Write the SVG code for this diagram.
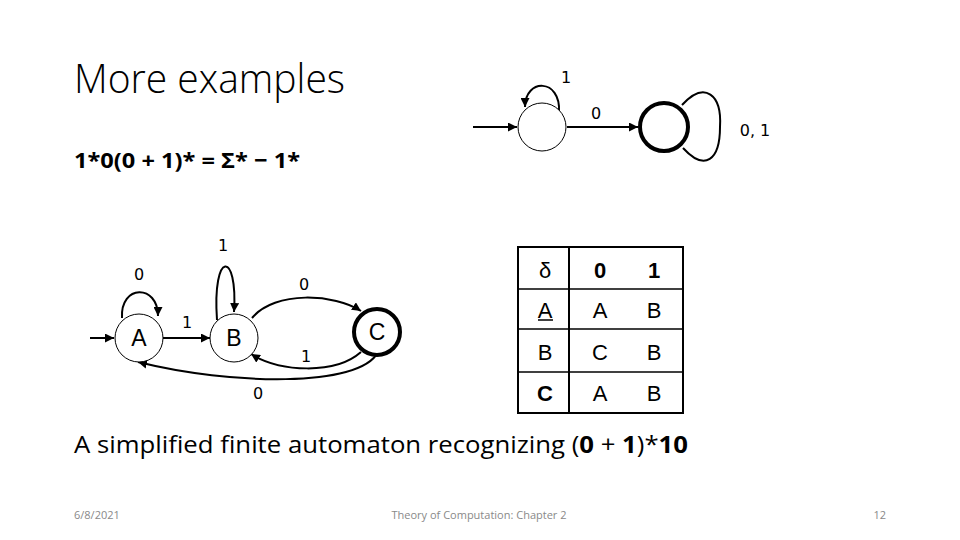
<svg xmlns="http://www.w3.org/2000/svg" width="960" height="540" viewBox="0 0 960 540">
<style>
.st{fill:#fff;stroke:#000;stroke-width:1}
.fin{fill:#fff;stroke:#000;stroke-width:4}
.e{fill:none;stroke:#000;stroke-width:2}
.lb{font-family:"DejaVu Sans",sans-serif;font-size:16px;fill:#000;text-anchor:middle}
.sn{font-family:"Liberation Sans",Arial,sans-serif;font-size:23px;fill:#000;text-anchor:middle}
.tb{font-family:"Liberation Sans",Arial,sans-serif;font-size:22px;fill:#000;text-anchor:middle}
.ft{font-family:"Open Sans","Liberation Sans",sans-serif;font-size:11px;fill:#898989}
</style>
<defs>
<marker id="ah" viewBox="0 0 10 10" refX="10" refY="5" markerWidth="4.5" markerHeight="4.5" orient="auto" markerUnits="strokeWidth">
<path d="M0,0 L10,5 L0,10 z" fill="#000"/>
</marker>
</defs>
<rect width="960" height="540" fill="#fff"/>
<text x="74" y="93" font-family="Open Sans, Liberation Sans, sans-serif" font-weight="300" font-size="40" textLength="271" lengthAdjust="spacingAndGlyphs">More examples</text>
<text x="74" y="168" font-family="Open Sans, Liberation Sans, sans-serif" font-weight="700" font-size="22" textLength="226" lengthAdjust="spacingAndGlyphs">1*0(0 + 1)* = Σ* − 1*</text>
<text x="74" y="453" font-family="Open Sans, Liberation Sans, sans-serif" font-size="23" textLength="614" lengthAdjust="spacingAndGlyphs">A simplified finite automaton recognizing (<tspan font-weight="700">0</tspan> + <tspan font-weight="700">1</tspan>)*<tspan font-weight="700">10</tspan></text>

<g id="connectors">
<line class="e" x1="473" y1="127" x2="517" y2="127" marker-end="url(#ah)"/>
<path class="e" d="M559,112 C561,78 525,78 525,107" marker-end="url(#ah)"/>
<line class="e" x1="567" y1="127" x2="638" y2="127" marker-end="url(#ah)"/>
<path class="e" d="M682,105 C705,80 722,95 720,127 C720,160 705,172 683,148"/>
<line class="e" x1="90" y1="338" x2="114" y2="338" marker-end="url(#ah)"/>
<path class="e" d="M122,318 C120,284 158,284 158,316" marker-end="url(#ah)"/>
<line class="e" x1="163" y1="338" x2="210" y2="338" marker-end="url(#ah)"/>
<path class="e" d="M217,320 C212,250 238,250 234,312" marker-end="url(#ah)"/>
<path class="e" d="M252,318 C275,290 335,294 361,311" marker-end="url(#ah)"/>
<path class="e" d="M361,352 C335,375 280,372 251,354" marker-end="url(#ah)"/>
<path class="e" d="M378,352 C360,388 230,385 138,362" marker-end="url(#ah)"/>
</g>
<g id="labels">
<text class="lb" x="566" y="83">1</text>
<text class="lb" x="596" y="119">0</text>
<text class="lb" x="755" y="136">0, 1</text>
<text class="lb" x="139" y="280">0</text>
<text class="lb" x="187" y="328">1</text>
<text class="lb" x="223" y="251">1</text>
<text class="lb" x="304" y="290">0</text>
<text class="lb" x="306" y="362">1</text>
<text class="lb" x="258" y="399">0</text>
</g>
<g id="q0"><circle class="st" cx="542" cy="127" r="24"/></g>
<g id="q1"><circle class="fin" cx="664" cy="127" r="24"/></g>
<g id="A"><circle class="st" cx="139" cy="338" r="24"/><text class="sn" x="139" y="346">A</text></g>
<g id="B"><circle class="st" cx="234" cy="338" r="24"/><text class="sn" x="234" y="346">B</text></g>
<g id="C"><circle class="fin" cx="377" cy="332" r="23"/><text class="sn" x="377" y="340">C</text></g>

<g id="table">
<rect x="518" y="247" width="165" height="166" fill="none" stroke="#000" stroke-width="2"/>
<line x1="569" y1="247" x2="569" y2="413" stroke="#000" stroke-width="2"/>
<line x1="518" y1="289" x2="683" y2="289" stroke="#000" stroke-width="1.5"/>
<line x1="518" y1="329" x2="683" y2="329" stroke="#000" stroke-width="1.5"/>
<line x1="518" y1="372" x2="683" y2="372" stroke="#000" stroke-width="1.5"/>
<text class="tb" x="545" y="278">δ</text>
<text class="tb" x="600" y="278" font-weight="700">0</text>
<text class="tb" x="654" y="278" font-weight="700">1</text>
<text class="tb" x="545" y="318">A</text>
<line x1="538" y1="320" x2="553" y2="320" stroke="#000" stroke-width="1.5"/>
<text class="tb" x="600" y="318">A</text>
<text class="tb" x="654" y="318">B</text>
<text class="tb" x="545" y="360">B</text>
<text class="tb" x="600" y="360">C</text>
<text class="tb" x="654" y="360">B</text>
<text class="tb" x="545" y="401" font-weight="700">C</text>
<text class="tb" x="600" y="401">A</text>
<text class="tb" x="654" y="401">B</text>
</g>

<text class="ft" x="74" y="519">6/8/2021</text>
<text class="ft" x="479" y="519" text-anchor="middle">Theory of Computation: Chapter 2</text>
<text class="ft" x="886" y="519" text-anchor="end">12</text>
</svg>
